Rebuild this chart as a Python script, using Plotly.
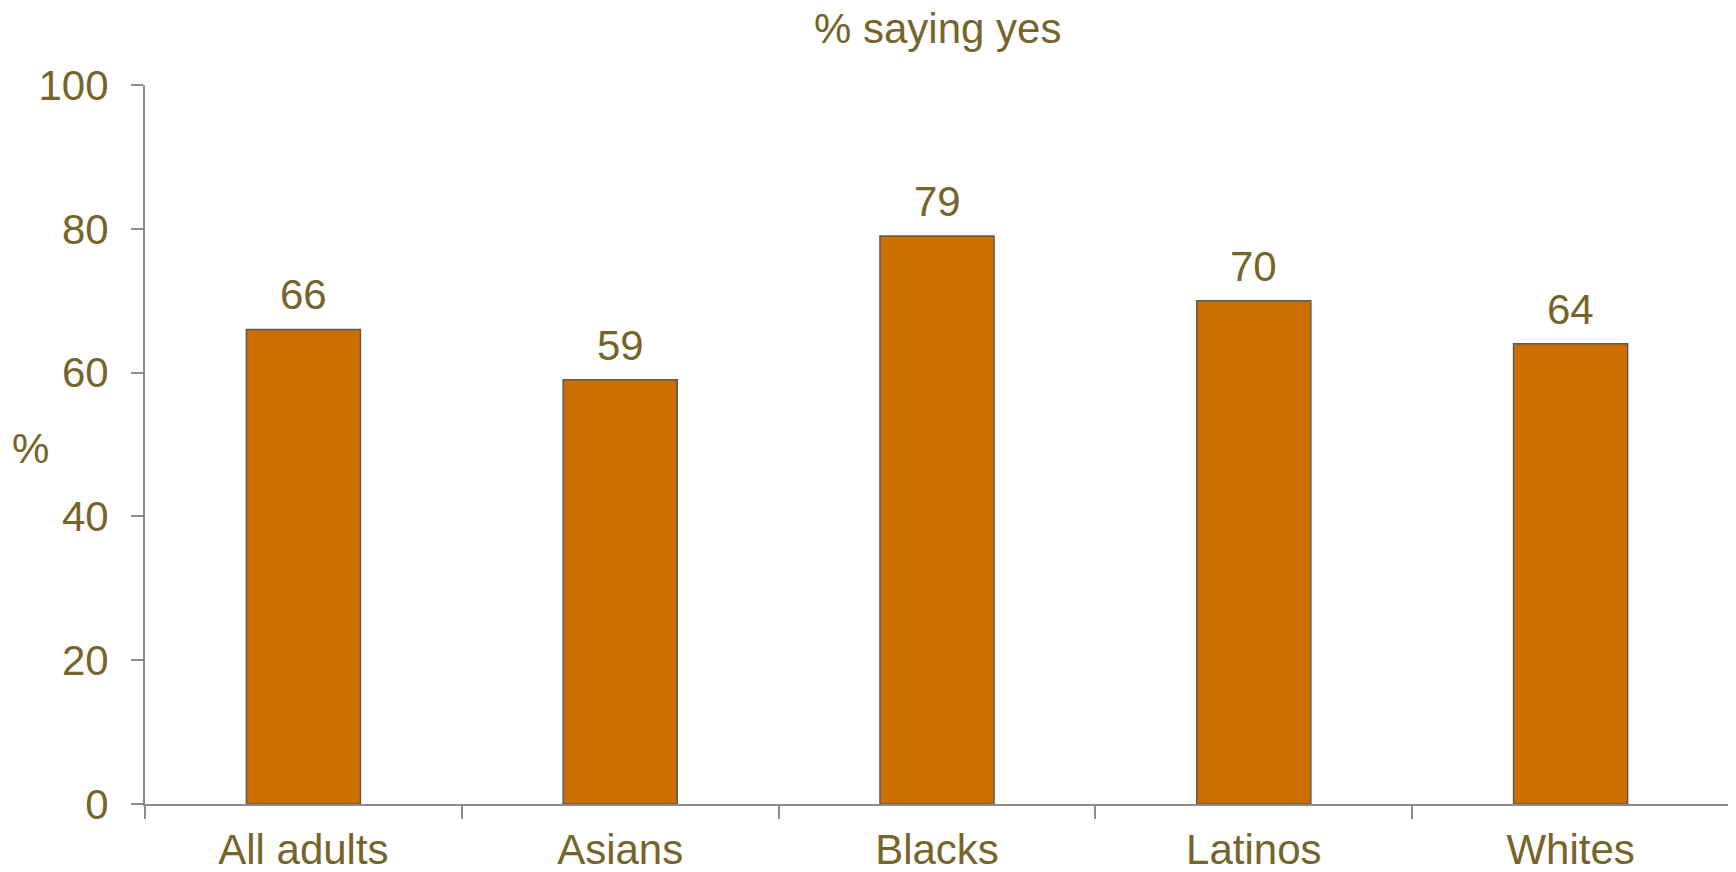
import plotly.graph_objects as go

categories = ["All adults", "Asians", "Blacks", "Latinos", "Whites"]
values = [66, 59, 79, 70, 64]
y_ticks = [0, 20, 40, 60, 80, 100]
title_text = "% saying yes"
y_label = "%"

TEXT = "#76652A"
BAR = "#CC6F00"
FONT = "Liberation Sans, Arial, sans-serif"
FS = 42

fig = go.Figure()
fig.add_trace(go.Bar(
    x=categories, y=values,
    marker=dict(color=BAR, line=dict(color="#595959", width=1.5)),
    width=0.36,
    hoverinfo="x+y",
))

for c, v in zip(categories, values):
    fig.add_annotation(x=c, y=v, text=str(v), showarrow=False,
                       yanchor="bottom", yshift=9,
                       font=dict(family=FONT, size=FS, color=TEXT))

fig.add_annotation(xref="paper", yref="paper", x=-0.0726, y=0.495,
                   text=y_label, showarrow=False, xanchor="center", yanchor="middle",
                   font=dict(family=FONT, size=FS, color=TEXT))

fig.add_annotation(xref="paper", yref="paper", x=0.5, y=1.079,
                   text=title_text, showarrow=False, xanchor="center", yanchor="middle",
                   font=dict(family=FONT, size=FS, color=TEXT))

# page body has an 8px default margin, so the figure is 8px smaller and margins compensate
fig.update_layout(
    width=1728, height=864,
    margin=dict(l=137, r=7, t=77, b=68, autoexpand=False),
    paper_bgcolor="white", plot_bgcolor="white",
    showlegend=False,
    font=dict(family=FONT, size=FS, color=TEXT),
)

fig.update_xaxes(
    type="category", automargin=False,
    showline=True, linecolor="#8C8C8C", linewidth=2,
    ticks="outside", tickson="boundaries", ticklen=13, tickcolor="#8C8C8C", tickwidth=2,
    showgrid=False, zeroline=False,
    tickfont=dict(family=FONT, size=FS, color=TEXT),
    ticklabelstandoff=8,
)
fig.update_yaxes(
    range=[0, 100], tickvals=y_ticks, ticktext=[str(t) for t in y_ticks],
    automargin=False,
    showline=True, linecolor="#8C8C8C", linewidth=2,
    ticks="outside", ticklen=12, tickcolor="#8C8C8C", tickwidth=2,
    showgrid=False, zeroline=False,
    tickfont=dict(family=FONT, size=FS, color=TEXT),
    ticklabelstandoff=14,
)

fig.write_html("out.html")
